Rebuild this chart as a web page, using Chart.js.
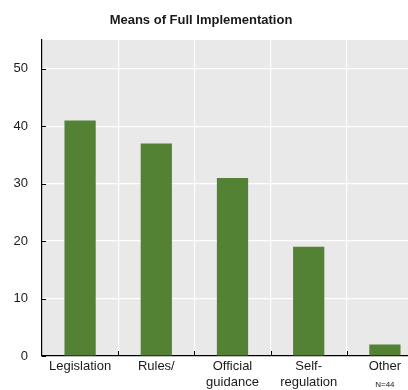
<!DOCTYPE html>
<html>
<head>
<meta charset="utf-8">
<style>
  html, body { margin: 0; padding: 0; background: #ffffff; overflow: hidden; }
  #wrap { position: relative; width: 424px; height: 390px; }
</style>
<script src="https://cdn.jsdelivr.net/npm/chart.js@4/dist/chart.umd.min.js"></script>
</head>
<body>
<div id="wrap"><canvas id="chart" width="424" height="390"></canvas></div>
<script>
// Means of full implementation (number of respondents)
const chartTitle = 'Means of Full Implementation';
const categories = ['Legislation', 'Rules/', ['Official', 'guidance'], ['Self-', 'regulation'], 'Other'];
const respondents = [41, 37, 31, 19, 2];
const yTicks = [0, 10, 20, 30, 40, 50];
const sampleNote = 'N=44';

const FONT = "'Liberation Sans', Arial, sans-serif";
const TEXT = '#1a1a1a';

// Title, inward tick marks and the sample-size note
const decorations = {
  id: 'decorations',
  afterDraw(chart) {
    const { ctx, chartArea: a, scales } = chart;
    ctx.save();
    ctx.fillStyle = TEXT;
    ctx.font = 'bold 13px ' + FONT;
    ctx.textAlign = 'center';
    ctx.textBaseline = 'middle';
    ctx.fillText(chartTitle, 201, 20);

    ctx.strokeStyle = '#000';
    ctx.lineWidth = 1;
    ctx.beginPath();
    scales.y.ticks.forEach(t => {
      const y = Math.round(scales.y.getPixelForValue(t.value)) + 0.5;
      ctx.moveTo(a.left, y);
      ctx.lineTo(a.left + 4, y);
    });
    for (let i = 1; i < categories.length; i++) {
      const x = Math.round((scales.x.getPixelForValue(i - 1) + scales.x.getPixelForValue(i)) / 2) + 0.5;
      ctx.moveTo(x, a.bottom);
      ctx.lineTo(x, a.bottom - 5);
    }
    ctx.stroke();

    ctx.font = '8px ' + FONT;
    ctx.fillText(sampleNote, scales.x.getPixelForValue(categories.length - 1), 385);
    ctx.restore();
  }
};

const plotBackground = {
  id: 'plotBackground',
  beforeDraw(chart) {
    const { ctx, chartArea: a } = chart;
    ctx.save();
    ctx.fillStyle = '#e9e9e9';
    ctx.fillRect(a.left, a.top, a.right - a.left, a.bottom - a.top);
    ctx.restore();
  }
};

new Chart(document.getElementById('chart'), {
  type: 'bar',
  data: {
    labels: categories,
    datasets: [{
      data: respondents,
      backgroundColor: '#548235',
      borderWidth: 0,
      barPercentage: 0.41,
      categoryPercentage: 1.0
    }]
  },
  options: {
    responsive: false,
    animation: false,
    layout: { padding: { top: 40, right: 1, left: 0, bottom: 0 } },
    plugins: { legend: { display: false }, tooltip: { enabled: false }, title: { display: false } },
    scales: {
      x: {
        offset: true,
        grid: { offset: true, color: '#ffffff', lineWidth: 1.2, drawTicks: false },
        border: { display: true, color: '#000000', width: 1.2 },
        ticks: { color: TEXT, font: { family: FONT, size: 13, lineHeight: 1.2 }, padding: 3, maxRotation: 0, autoSkip: false },
        afterFit(scale) { scale.height = 34; }
      },
      y: {
        min: 0,
        max: 55,
        afterBuildTicks(scale) { scale.ticks = yTicks.map(v => ({ value: v })); },
        grid: { color: '#ffffff', lineWidth: 1.2, drawTicks: false },
        border: { display: true, color: '#000000', width: 1.2 },
        ticks: { color: TEXT, font: { family: FONT, size: 13 }, padding: 14 },
        afterFit(scale) { scale.width = 42; }
      }
    }
  },
  plugins: [plotBackground, decorations]
});
</script>
</body>
</html>
